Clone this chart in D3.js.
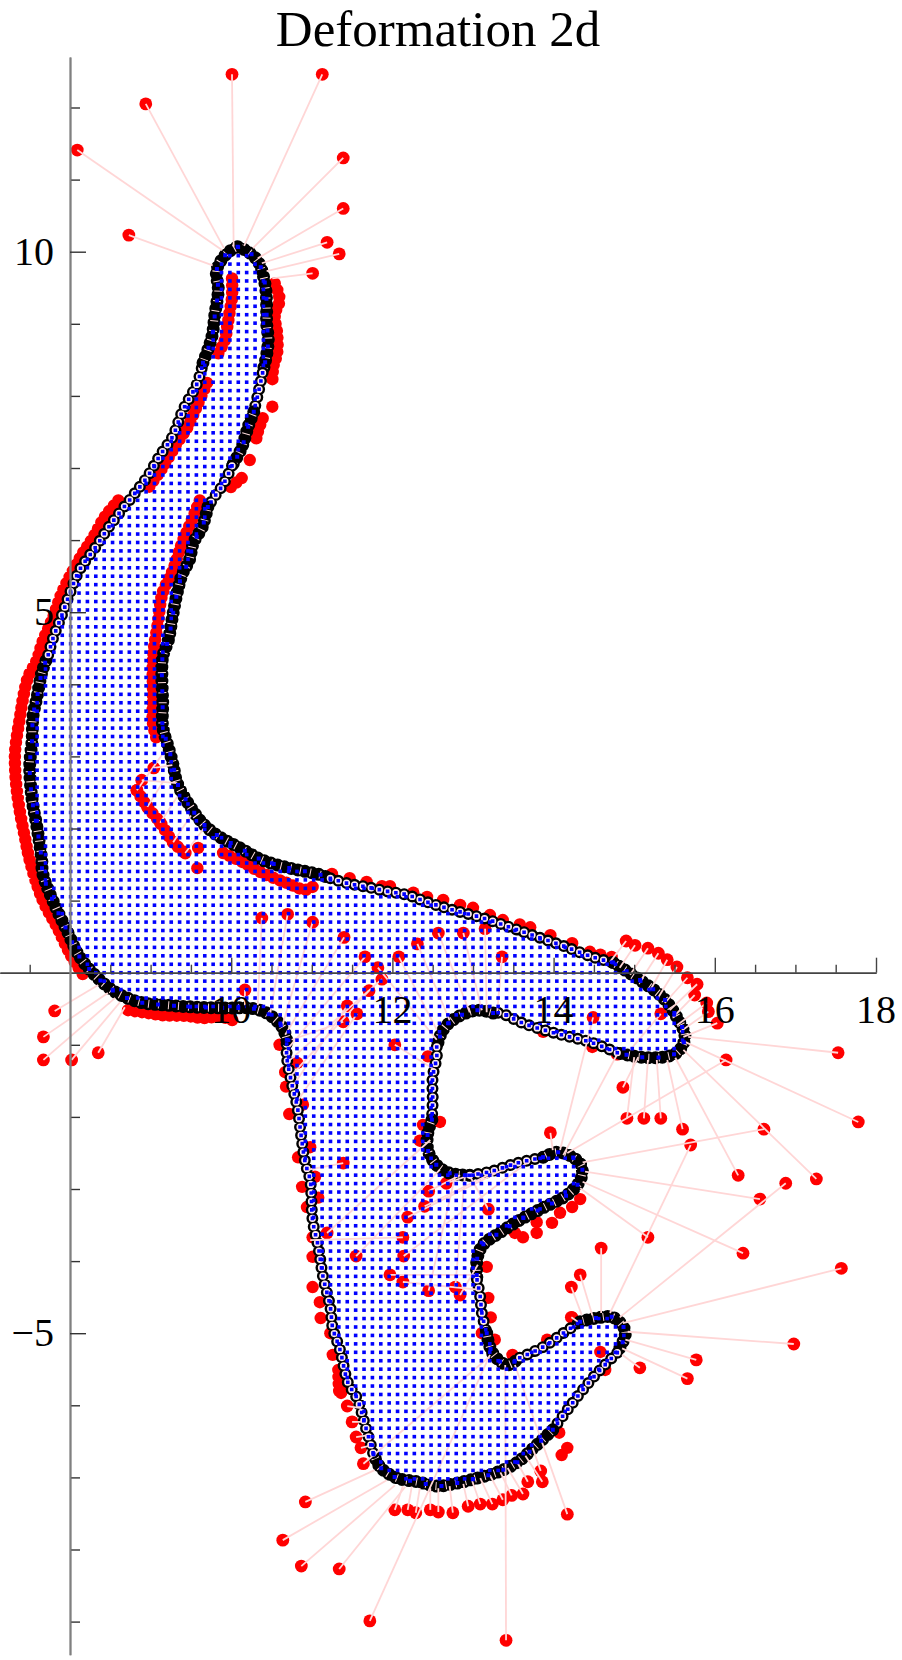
<!DOCTYPE html>
<html><head><meta charset="utf-8">
<style>html,body{margin:0;padding:0;background:#fff}svg{display:block}text{font-family:"Liberation Serif",serif;fill:#000}</style>
<script src="https://cdn.jsdelivr.net/npm/d3@7/dist/d3.min.js"></script></head>
<body><div id="c"></div>
<script>
const chartTitle = "Deformation 2d";
const xTickLabels = [10,12,14,16,18];
const yTickLabels = [10,5,-5];
const xMajorTicks = [10,12,14,16,18];
const xMinorTicks = [7.5,8.5,9,9.5,10.5,11,11.5,12.5,13,13.5,14.5,15,15.5,16.5,17,17.5];
const yMajorTicks = [10,5,-5];
const yMinorTicks = [12,11,9,8,7,6,4,3,2,1,-1,-2,-3,-4,-6,-7,-8,-9];

const outlineRuns = [
 [[10.08,10.07],[10.21,10.0],[10.33,9.87],[10.39,9.70],[10.43,9.47],[10.44,9.23],[10.44,9.01],[10.46,8.78],[10.44,8.57],[10.39,8.32]],
 [[10.39,8.32],[10.33,8.01],[10.28,7.78]],
 [[10.28,7.78],[10.21,7.57],[10.13,7.28],[10.01,7.03]],
 [[10.01,7.03],[9.90,6.77],[9.81,6.63],[9.71,6.46]],
 [[9.71,6.46],[9.64,6.18],[9.53,5.96],[9.48,5.72],[9.39,5.52],[9.33,5.27],[9.27,4.93],[9.22,4.61],[9.15,4.38],[9.14,4.10],[9.15,3.74],[9.15,3.41],[9.22,3.13],[9.28,2.88],[9.33,2.63],[9.46,2.36],[9.64,2.08],[9.82,1.91],[10.11,1.73],[10.39,1.56],[10.73,1.45],[11.10,1.36],[11.23,1.31]],
 [[11.23,1.31],[11.44,1.24],[11.68,1.19],[11.93,1.13],[12.18,1.08],[12.43,.98],[12.75,.87],[13.12,.76],[13.46,.63],[13.74,.52],[14.10,.38],[14.48,.22],[14.74,.14]],
 [[14.74,.14],[15.07,-.10],[15.36,-.35],[15.53,-.62],[15.63,-.89],[15.54,-1.10],[15.36,-1.17],[15.07,-1.17],[14.79,-1.11]],
 [[14.79,-1.11],[14.45,-.96],[14.20,-.89],[13.96,-.82],[13.62,-.70],[13.34,-.56],[13.25,-.56]],
 [[13.25,-.56],[13.05,-.52],[12.80,-.62],[12.63,-.79],[12.55,-1.03]],
 [[12.55,-1.03],[12.55,-1.17],[12.50,-1.45],[12.50,-1.77],[12.49,-2.04]],
 [[12.49,-2.04],[12.44,-2.22],[12.44,-2.46],[12.55,-2.67],[12.71,-2.78],[12.96,-2.81]],
 [[12.96,-2.81],[13.21,-2.76],[13.55,-2.64],[13.87,-2.56]],
 [[13.87,-2.56],[14.05,-2.49],[14.24,-2.56],[14.35,-2.69],[14.33,-2.88],[14.17,-3.08],[13.87,-3.26],[13.58,-3.43],[13.34,-3.60],[13.12,-3.78],[13.05,-3.98],[13.05,-4.26]],
 [[13.05,-4.26],[13.09,-4.50],[13.11,-4.72],[13.17,-5.0]],
 [[13.17,-5.0],[13.24,-5.27],[13.42,-5.44],[13.58,-5.34]],
 [[13.58,-5.34],[13.87,-5.19],[14.12,-5.00],[14.33,-4.84]],
 [[14.33,-4.84],[14.58,-4.78],[14.74,-4.78],[14.89,-4.98],[14.79,-5.27]],
 [[14.79,-5.27],[14.61,-5.47],[14.41,-5.72],[14.20,-6.02],[13.99,-6.34]],
 [[13.99,-6.34],[13.79,-6.55],[13.55,-6.79],[13.30,-6.93],[13.05,-7.01],[12.80,-7.08],[12.55,-7.12],[12.31,-7.06],[12.06,-7.01],[11.85,-6.86],[11.76,-6.66]],
 [[11.76,-6.66],[11.66,-6.27],[11.56,-5.90],[11.45,-5.69],[11.35,-5.23],[11.26,-4.93],[11.23,-4.64],[11.14,-4.22],[11.08,-3.80],[11.01,-3.43],[10.98,-2.88],[10.92,-2.64],[10.87,-2.28],[10.82,-1.86],[10.75,-1.53],[10.69,-1.17],[10.69,-.93]],
 [[10.69,-.93],[10.63,-.75],[10.44,-.56],[10.23,-.49],[10.02,-.49],[9.61,-.48],[9.20,-.45],[8.87,-.41],[8.58,-.28],[8.37,-.10],[8.12,.22],[7.96,.59],[7.81,.94],[7.66,1.38],[7.65,1.56],[7.59,2.02],[7.53,2.40],[7.50,2.85],[7.53,3.23],[7.54,3.55],[7.59,3.82],[7.65,4.16],[7.73,4.41]],
 [[7.73,4.41],[7.79,4.64],[7.90,4.96],[8.0,5.27],[8.12,5.59],[8.31,5.89],[8.50,6.21],[8.77,6.60],[8.96,6.88],[9.12,7.18],[9.27,7.43],[9.40,7.80],[9.58,8.18],[9.65,8.46]],
 [[9.65,8.46],[9.76,8.82],[9.80,9.15],[9.84,9.47],[9.82,9.75],[9.95,9.98],[10.08,10.07]]
];
const runKinds = "brbrbrbrbrbrbrbrbrbrbrb";   // b = solid black markers, r = open ring markers

// Deformed points that crowd into a continuous red band.
const redBands = [
 [[10.54,9.56],[10.60,9.33],[10.54,9.12],[10.57,8.87],[10.57,8.60],[10.52,8.39],[10.51,8.15]],
 [[10.39,7.69],[10.33,7.50],[10.30,7.35]],
 [[10.13,6.86],[9.98,6.72]],
 [[10.01,9.63],[10.01,9.37],[9.98,9.16],[9.95,8.95],[9.92,8.77],[9.84,8.59]],
 [[9.70,8.18],[9.59,7.90],[9.46,7.57],[9.33,7.35],[9.15,7.01],[8.97,6.72]],
 [[8.60,6.55],[8.43,6.32],[8.29,6.04],[8.16,5.82],[8.02,5.54],[7.90,5.27],[7.79,4.93],[7.66,4.59],[7.59,4.34],[7.48,4.10],[7.42,3.82],[7.38,3.55],[7.32,3.09],[7.32,2.81],[7.34,2.53],[7.38,2.22],[7.44,1.88],[7.50,1.56],[7.66,1.01],[7.84,.63],[8.02,.22],[8.19,-.07]],
 [[9.61,6.55],[9.51,6.27],[9.39,5.96],[9.28,5.59],[9.15,5.27],[9.09,4.85],[9.03,4.38],[9.03,3.88],[9.03,3.46],[9.09,3.19]],
 [[8.83,2.53],[8.96,2.30],[9.12,2.08],[9.28,1.81],[9.43,1.66]],
 [[9.90,1.66],[10.13,1.54],[10.39,1.38],[10.70,1.24],[10.92,1.15],[11.01,1.19]],
 [[8.72,-.52],[8.91,-.55],[9.15,-.59],[9.45,-.60],[9.65,-.63],[9.86,-.61],[10.07,-.68]],
 [[11.33,-5.51],[11.35,-5.86],[11.39,-5.72]]
];

// Separate deformed points with no line of their own in the picture.
const looseRedX = [10.51,10.23,11.39,11.26,11.23,11.11,11.10,11.01,11.01,11.01,10.94,11.08,10.88,11.04,10.83,10.98,10.60,10.82,10.67,10.68,10.89,10.72,12.44,12.59,12.38,12.34,14.48,13.87,13.17,13.19,13.22,13.27,13.11,13.49,13.92,14.23,14.58,14.33,14.23,14.08,13.98,13.79,13.79,13.62,13.52,14.07,14.17,14.10,14.64,9.58,9.59,
 11.25,11.47,11.68,11.87,11.97,12.26,12.43,12.63,12.84,13.0,13.21,13.37,13.58,13.71,13.96,14.23,14.45,14.58,14.72];
const looseRedY = [7.85,7.11,-5.72,-5.30,-5.00,-4.79,-4.57,-4.36,-3.94,-3.67,-3.25,-3.12,-2.97,-2.83,-2.56,-2.42,-1.00,-1.25,-1.38,-1.58,-1.83,-1.96,-1.16,-2.07,-2.11,-2.33,-1.03,-.82,-4.08,-4.51,-4.78,-5.09,-5.00,-5.30,-5.09,-4.78,-5.26,-3.14,-3.25,-3.33,-3.47,-3.46,-3.61,-3.67,-3.61,-6.38,-6.59,-6.69,-5.51,1.45,1.73,
 1.37,1.31,1.26,1.20,1.20,1.11,1.05,1.01,.94,.90,.80,.73,.67,.63,.52,.41,.29,.25,.22];

// Deformed point and the boundary point it is tied to by a pale line.
const movedX = [10.01,11.13,8.94,8.09,8.73,11.39,11.39,11.19,11.34,11.01, 7.81,7.67,7.67,8.02,8.35,
 14.86,14.91,15.12,15.33,15.60,16.29,17.26,17.53,17.78,16.61,16.14,15.70,15.17,16.56,16.88,16.35,17.57,16.98,15.77,15.66,15.07,14.59,14.33,14.22,14.22,13.96,14.49,14.79,
 14.90,15.01,15.17,15.30,15.41,15.53,15.66,15.78,15.75,15.90,15.92,16.03,
 10.92,10.64,10.87,11.34,11.72,13.41,14.17,
 12.03,12.19,12.29,12.47,12.57,12.75,12.94,13.09,13.24,13.37,13.48,13.62,13.68,13.86,13.84,
 11.64,11.61,11.55,11.50,11.44,
 10.38,10.70,11.01,11.40,11.66,11.82,12.08,12.31,12.57,12.88,13.15,13.36,11.87,11.71,10.17,11.44,11.56,11.39,12.03,15.33,
 11.39,12.45,12.67,12.40,12.19,13.19,12.13,11.19,11.55,12.14,11.97,12.13,12.45,12.78,12.84,
 8.83,8.96,9.12,9.28,9.43,9.04,8.89];
const movedY = [12.46,12.46,12.05,11.41,10.23,11.30,10.60,10.13,9.97,9.70, -.53,-.89,-1.21,-1.21,-1.11,
 -1.59,-2.02,-2.02,-2.02,-2.17,-2.81,-2.86,-1.11,-2.07,-2.17,-1.21,-2.39,-3.67,-3.14,-2.92,-3.89,-4.10,-5.15,-5.37,-5.63,-5.48,-3.82,-4.19,-4.36,-4.78,-2.22,-.62,-1.13,
 .44,.38,.34,.27,.18,.08,-.07,-.16,-.31,-.42,-.54,-.70,
 -7.34,-7.87,-8.23,-8.27,-8.99,-9.26,-7.51,
 -7.45,-7.45,-7.49,-7.45,-7.48,-7.49,-7.40,-7.37,-7.37,-7.31,-7.25,-7.23,-7.06,-7.06,-6.91,
 -6.81,-6.59,-6.44,-6.23,-6.01,
 .76,.81,.70,.49,.22,.07,.22,.40,.55,.55,.61,.22,-.09,-.25,-.24,-.46,-.57,-.68,-1.00,-.57,
 -2.64,-3.03,-2.92,-3.24,-3.39,-3.28,-3.67,-3.61,-3.93,-3.93,-4.19,-4.29,-4.41,-4.36,-4.47,
 2.53,2.30,2.08,1.81,1.66,2.84,2.67];
const anchorX = [10.03,10.16,9.91,9.89,9.77,10.27,10.33,10.38,10.44,10.51, 8.35,8.47,8.56,8.62,8.68,
 15.05,15.00,15.17,15.28,15.41,15.51,15.61,15.67,15.63,14.36,14.17,14.70,14.33,14.39,14.82,14.36,14.86,14.92,14.89,14.85,14.85,14.59,14.48,14.35,14.30,13.99,14.08,14.12,
 14.70,14.82,14.95,15.07,15.20,15.30,15.38,15.44,15.48,15.53,15.57,15.61,
 11.78,11.93,12.03,12.16,13.21,13.40,13.52,
 12.13,12.24,12.34,12.47,12.57,12.71,12.88,12.99,13.09,13.21,13.34,13.43,13.55,13.65,13.74,
 13.20,11.76,11.72,11.67,11.61,
 10.33,10.48,10.63,10.67,10.69,12.55,12.55,12.71,12.96,13.11,13.17,13.30,10.73,10.75,10.17,10.73,10.79,10.75,12.53,14.95,
 10.92,12.84,13.09,13.27,13.52,12.96,10.98,12.47,12.59,13.71,13.09,13.09,12.78,12.90,13.06,
 9.14,9.16,9.33,9.50,9.66,9.27,9.33];
const anchorY = [10.07,10.08,10.05,10.02,9.81,10.05,9.91,9.84,9.73,9.63, -.17,-.28,-.35,-.41,-.48,
 -1.17,-1.17,-1.21,-1.21,-1.21,-1.18,-1.07,-.89,-.96,-2.63,-2.50,-4.72,-2.99,-2.76,-4.78,-2.90,-4.86,-4.98,-5.09,-5.21,-5.30,-4.72,-4.75,-4.75,-4.84,-2.46,-2.46,-2.53,
 .15,.07,-.03,-.13,-.24,-.34,-.42,-.52,-.62,-.73,-.82,-.89,
 -6.90,-7.04,-7.11,-7.13,-5.30,-5.44,-5.44,
 -7.12,-7.13,-7.15,-7.15,-7.15,-7.12,-7.09,-7.05,-7.01,-6.97,-6.93,-6.87,-6.79,-6.70,-6.59,
 -5.33,-6.55,-6.41,-6.23,-6.04,
 -.45,-.59,-.75,-.86,-1.07,-.93,-.79,-.66,-.55,-.52,-.55,-.55,-1.21,-1.42,-.45,-1.63,-1.83,-.93,-1.35,-1.07,
 -2.74,-2.81,-2.76,-2.76,-2.65,-2.82,-3.71,-2.32,-2.73,-2.60,-4.19,-4.40,-2.81,-2.81,-4.05,
 3.02,2.66,2.44,2.18,2.00,2.88,2.63];

// The interior of the shape is a regular mesh in the source. Its column and row steps
// are read from the picture, and it is clipped by the boundary read above; the individual
// interior points were not read one by one.
const meshColumnStep = 0.104;
const meshRowStep = 0.117;
const meshColumns = d3.range(71,152);
const meshRows = d3.range(-62,87);

const W=902,H=1660;
const x=d3.scaleLinear().domain([8,18]).range([70,876]);
const y=d3.scaleLinear().domain([10,-5]).range([251.7,1333.2]);
const svg=d3.select("#c").append("svg").attr("width",W).attr("height",H).attr("viewBox",`0 0 ${W} ${H}`);
const smooth=d3.line().x(d=>x(d[0])).y(d=>y(d[1])).curve(d3.curveCatmullRom.alpha(0.5));

// Red deformed points
const gRed=svg.append("g");
gRed.selectAll("path").data(redBands).join("path").attr("d",smooth).attr("fill","none")
  .attr("stroke","#ff0000").attr("stroke-width",12.5).attr("stroke-linecap","round").attr("stroke-dasharray","0 7");
gRed.selectAll("circle.l").data(looseRedX).join("circle").attr("class","l")
  .attr("cx",d=>x(d)).attr("cy",(d,i)=>y(looseRedY[i])).attr("r",6.2).attr("fill","#ff0000");
gRed.selectAll("circle.m").data(movedX).join("circle").attr("class","m")
  .attr("cx",d=>x(d)).attr("cy",(d,i)=>y(movedY[i])).attr("r",6.4).attr("fill","#ff0000");

// Boundary markers
const gOut=svg.append("g").attr("fill","none");
outlineRuns.forEach((run,i)=>{
  const ring=runKinds[i]==="r", d=smooth(run);
  if(ring){
    gOut.append("path").attr("d",d).attr("stroke","#000").attr("stroke-width",12).attr("stroke-linecap","round").attr("stroke-dasharray","0 8.4");
    gOut.append("path").attr("d",d).attr("stroke","#ffecec").attr("stroke-width",7.2).attr("stroke-linecap","round").attr("stroke-dasharray","0 8.4");
  }else{
    gOut.append("path").attr("d",d).attr("stroke","#000").attr("stroke-width",10);
    gOut.append("path").attr("d",d).attr("stroke","#000").attr("stroke-width",13).attr("stroke-linecap","round").attr("stroke-dasharray","0 7");
    gOut.append("path").attr("d",d).attr("stroke","#ffdcdc").attr("stroke-width",8).attr("stroke-dasharray","1 9").attr("stroke-dashoffset",-3);
  }
});

// Pale displacement lines
svg.append("g").selectAll("line").data(movedX).join("line")
  .attr("x1",d=>x(d)).attr("y1",(d,i)=>y(movedY[i]))
  .attr("x2",(d,i)=>x(anchorX[i])).attr("y2",(d,i)=>y(anchorY[i]))
  .attr("stroke","#ffd6d6").attr("stroke-width",1.8);

// Blue mesh points
const polygon=outlineRuns.flat().map(d=>[x(d[0]),y(d[1])]);
const mesh=d3.cross(meshColumns,meshRows).map(([c,r])=>[c*meshColumnStep,r*meshRowStep])
  .filter(d=>d3.polygonContains(polygon,[x(d[0]),y(d[1])]));
svg.append("g").attr("fill","#0000ff").selectAll("rect").data(mesh).join("rect")
  .attr("x",d=>x(d[0])-1.8).attr("y",d=>y(d[1])-1.8).attr("width",3.6).attr("height",3.6);

// Blue centres of boundary markers
const gCentre=svg.append("g").attr("fill","none");
outlineRuns.forEach((run,i)=>{
  const ring=runKinds[i]==="r";
  gCentre.append("path").attr("d",smooth(run)).attr("stroke","#0000ff").attr("stroke-width",ring?3.6:4)
    .attr("stroke-linecap","square").attr("stroke-dasharray",ring?"0 8.4":"0 16");
});

// Axes
function styleAxis(g,col,w,tickCol){
  g.select(".domain").attr("stroke",col).attr("stroke-width",w);
  g.selectAll(".tick line").attr("stroke",tickCol).attr("stroke-width",1.4);
  g.selectAll(".tick text").remove();
}
const xDomain=d3.scaleLinear().domain([7.13,18]).range([x(7.13),x(18)]);
const gx=svg.append("g").attr("transform",`translate(0,${y(0)})`);
gx.append("g").call(d3.axisTop(xDomain).tickValues(xMinorTicks).tickSize(8).tickSizeOuter(0)).call(g=>styleAxis(g,"#444",1.6,"#444"));
gx.append("g").call(d3.axisTop(xDomain).tickValues(xMajorTicks).tickSize(15).tickSizeOuter(0)).call(g=>styleAxis(g,"#444",1.6,"#444"));
const yDomain=d3.scaleLinear().domain([12.7,-9.46]).range([y(12.7),y(-9.46)]);
const gy=svg.append("g").attr("transform",`translate(${x(8)},0)`);
gy.append("g").call(d3.axisRight(yDomain).tickValues(yMinorTicks).tickSize(10).tickSizeOuter(0)).call(g=>styleAxis(g,"#808080",1.8,"#333"));
gy.append("g").call(d3.axisRight(yDomain).tickValues(yMajorTicks).tickSize(16).tickSizeOuter(0)).call(g=>styleAxis(g,"#808080",1.8,"#333"));

svg.append("g").selectAll("text").data(xTickLabels).join("text")
  .attr("x",d=>x(d)).attr("y",y(0)+50).attr("text-anchor","middle").attr("font-size",40).text(d=>d);
svg.append("g").selectAll("text").data(yTickLabels).join("text")
  .attr("x",54).attr("y",d=>y(d)+13).attr("text-anchor","end").attr("font-size",40).text(d=>String(d).replace("-","\u2212"));
svg.append("text").attr("x",438).attr("y",46).attr("text-anchor","middle").attr("font-size",51).text(chartTitle);
</script></body></html>
